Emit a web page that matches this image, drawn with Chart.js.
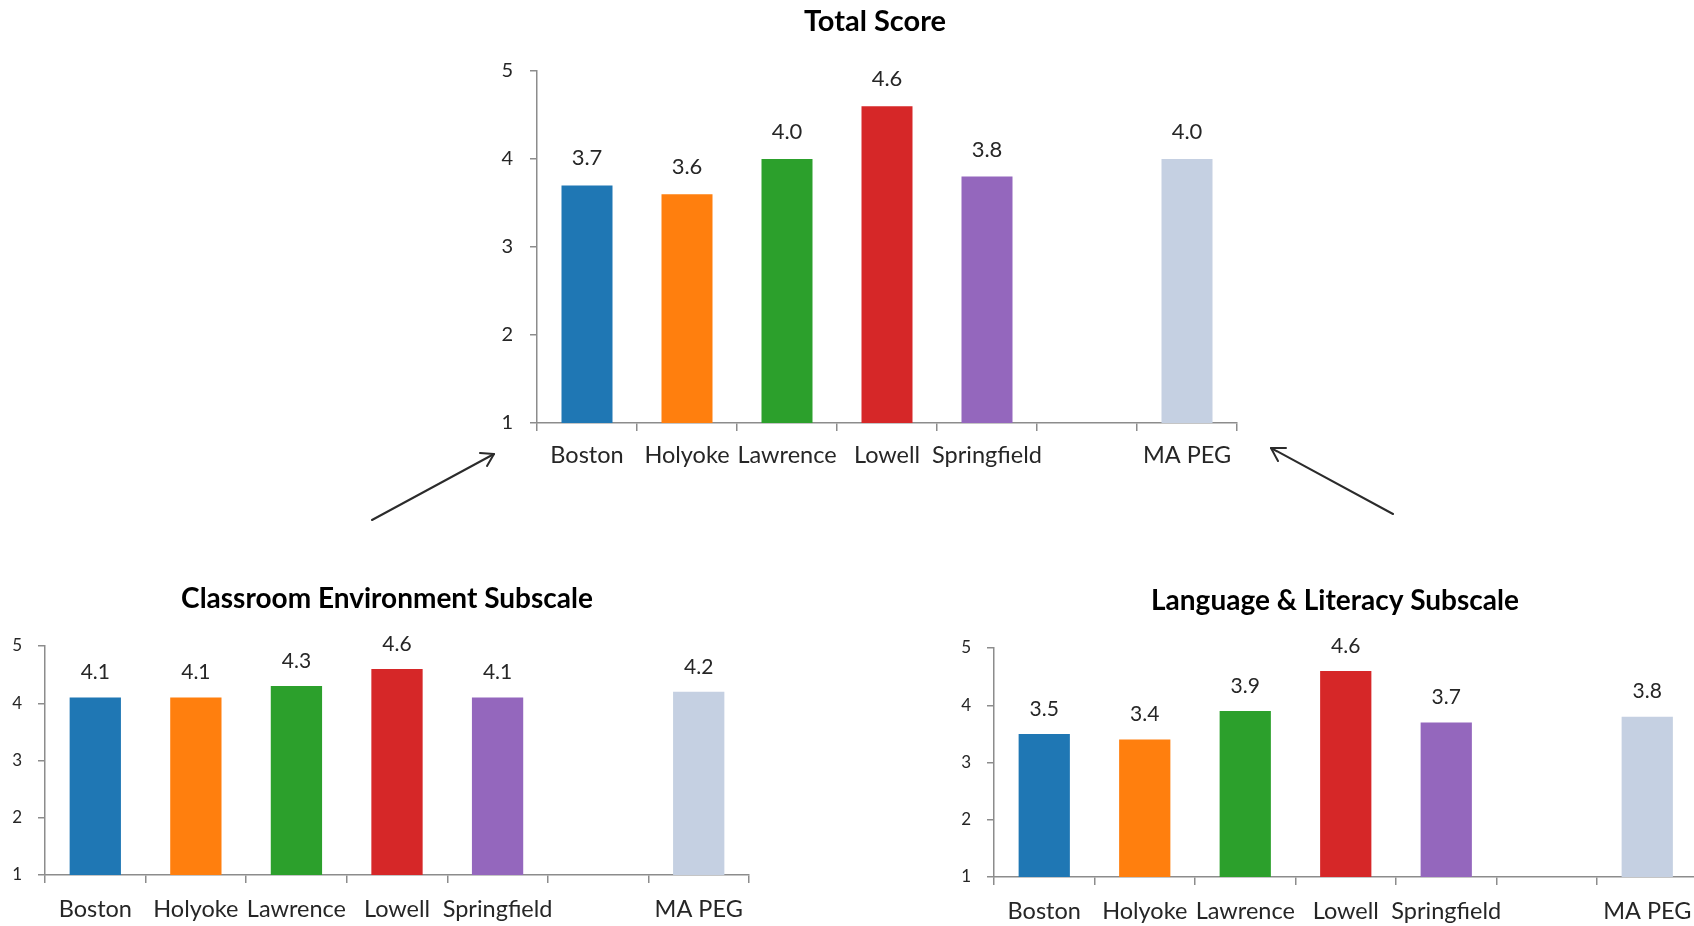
<!DOCTYPE html>
<html>
<head>
<meta charset="utf-8">
<script src="https://cdn.jsdelivr.net/npm/chart.js@4.4.1/dist/chart.umd.min.js"></script>
<style>
  html, body { margin: 0; padding: 0; background: #ffffff; overflow: hidden; width: 1694px; height: 926px; }
  canvas { position: absolute; display: block; }
  svg { position: absolute; left: 0; top: 0; }
</style>
</head>
<body>
<canvas id="totalChart" width="876" height="480" style="left:437px;top:0px;width:876px;height:480px"></canvas>
<canvas id="classroomChart" width="774" height="366" style="left:0px;top:560px;width:774px;height:366px"></canvas>
<canvas id="literacyChart" width="870" height="366" style="left:900px;top:560px;width:870px;height:366px"></canvas>
<svg width="1694" height="926" viewBox="0 0 1694 926">
  <g stroke="#2b2b2b" stroke-width="2" fill="none" stroke-linecap="round" stroke-linejoin="round">
    <line x1="372" y1="520" x2="494" y2="454"/>
    <polyline points="480,453 494,454 487,466"/>
    <line x1="1393" y1="514" x2="1271" y2="448"/>
    <polyline points="1286,448 1271,448 1278,461"/>
  </g>
</svg>
<script>
// Sites along the x axis; the empty slot separates the cities from the state figure
const sites = ['Boston', 'Holyoke', 'Lawrence', 'Lowell', 'Springfield', '', 'MA PEG'];
// Mean scores per site (scale 1-5)
const totalScore   = [3.7, 3.6, 4.0, 4.6, 3.8, null, 4.0];
const classroomEnv = [4.1, 4.1, 4.3, 4.6, 4.1, null, 4.2];
const langLiteracy = [3.5, 3.4, 3.9, 4.6, 3.7, null, 3.8];
// Score axis
const yTicks = [1, 2, 3, 4, 5];
const barColors = ['#1f77b4', '#ff7f0e', '#2ca02c', '#d62728', '#9467bd', '#ffffff', '#c5d0e2'];

Chart.defaults.font.family = 'Lato, "Liberation Sans", sans-serif';
Chart.defaults.color = '#262626';

// Writes each bar's value (one decimal) above it
const valueLabels = {
  id: 'valueLabels',
  afterDatasetsDraw(chart, args, opts) {
    const ctx = chart.ctx;
    const values = chart.data.datasets[0].data;
    ctx.save();
    ctx.font = opts.font;
    ctx.fillStyle = opts.color;
    ctx.textAlign = 'center';
    ctx.textBaseline = 'middle';
    chart.getDatasetMeta(0).data.forEach((bar, i) => {
      if (values[i] == null) return;
      ctx.fillText(values[i].toFixed(1), bar.x, bar.y - opts.offset);
    });
    ctx.restore();
  }
};

// Bold heading centred on the canvas
const panelTitle = {
  id: 'panelTitle',
  afterDraw(chart, args, opts) {
    const ctx = chart.ctx;
    ctx.save();
    ctx.font = opts.font;
    ctx.fillStyle = '#000000';
    ctx.textAlign = 'center';
    ctx.textBaseline = 'middle';
    ctx.fillText(opts.text, chart.width / 2, opts.y);
    ctx.restore();
  }
};

function makeChart(id, title, values, cfg) {
  return new Chart(document.getElementById(id), {
    type: 'bar',
    data: {
      labels: sites,
      datasets: [{
        data: values,
        backgroundColor: barColors,
        borderWidth: 0,
        barPercentage: 0.51,
        categoryPercentage: 1.0
      }]
    },
    options: {
      responsive: false,
      animation: false,
      events: [],
      layout: { autoPadding: false, padding: cfg.padding },
      plugins: {
        legend: { display: false },
        title: { display: false },
        tooltip: { enabled: false },
        valueLabels: { font: cfg.valueFont, color: '#262626', offset: cfg.valueOffset },
        panelTitle: { text: title, y: cfg.titleY, font: cfg.titleFont }
      },
      scales: {
        x: {
          grid: { display: true, offset: true, drawOnChartArea: false, drawTicks: true, tickLength: 8, color: '#8c8c8c', lineWidth: 1.5 },
          border: { display: true, color: '#8c8c8c', width: 1.5 },
          ticks: { autoSkip: false, maxRotation: 0, minRotation: 0, padding: cfg.xPad, font: { size: cfg.xSize }, color: '#262626' },
          afterFit: s => { s.height = cfg.xHeight; }
        },
        y: {
          min: 1, max: 5,
          afterBuildTicks: s => { s.ticks = yTicks.map(v => ({ value: v })); },
          grid: { display: true, drawOnChartArea: false, drawTicks: true, tickLength: 7, color: '#8c8c8c', lineWidth: 1.5 },
          border: { display: true, color: '#8c8c8c', width: 1.5 },
          ticks: { padding: cfg.yPad, font: { size: cfg.ySize }, color: '#262626' },
          afterFit: s => { s.width = cfg.yWidth; }
        }
      }
    },
    plugins: [valueLabels, panelTitle]
  });
}

makeChart('totalChart', 'Total Score', totalScore, {
  padding: { left: 0, top: 71, right: 76, bottom: 0 },
  yWidth: 100, xHeight: 57, xPad: 10, yPad: 17, xSize: 23.5, ySize: 20,
  valueFont: '22px Lato', valueOffset: 27,
  titleY: 22, titleFont: 'bold 29px Lato'
});

makeChart('classroomChart', 'Classroom Environment Subscale', classroomEnv, {
  padding: { left: 0, top: 86, right: 25, bottom: 0 },
  yWidth: 45, xHeight: 51, xPad: 12, yPad: 16, xSize: 23.5, ySize: 17,
  valueFont: '21px Lato', valueOffset: 25,
  titleY: 39, titleFont: 'bold 28px Lato'
});

makeChart('literacyChart', 'Language & Literacy Subscale', langLiteracy, {
  padding: { left: 0, top: 88, right: 72.5, bottom: 0 },
  yWidth: 94, xHeight: 49, xPad: 12, yPad: 16, xSize: 23.5, ySize: 17,
  valueFont: '21px Lato', valueOffset: 25,
  titleY: 41, titleFont: 'bold 28px Lato'
});
</script>
</body>
</html>
